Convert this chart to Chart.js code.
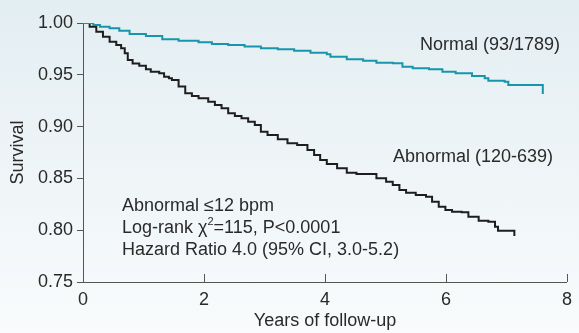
<!DOCTYPE html>
<html>
<head>
<meta charset="utf-8">
<script src="https://cdn.jsdelivr.net/npm/chart.js@4/dist/chart.umd.min.js"></script>
<style>
    html, body { margin: 0; padding: 0; }
    body { width: 579px; height: 333px; background: linear-gradient(#e3eef2, #f9fbfc); }
    #wrap { position: relative; width: 579px; height: 333px; }
</style>
</head>
<body>
<div id="wrap"><canvas id="kmChart" width="579" height="333"></canvas></div>
<script>
// 생존곡선 데이터
const normalYears = [0, 0.17, 0.28, 0.44, 0.60, 0.77, 1.04, 1.31, 1.58, 1.91, 2.13, 2.40, 2.67, 2.94, 3.22, 3.49, 3.76, 4.03, 4.09, 4.36, 4.63, 4.85, 5.12, 5.28, 5.45, 5.72, 5.94, 6.16, 6.43, 6.64, 6.70, 6.97, 7.03, 7.60, 7.60];
const normalSurv = [1.0, 0.998, 0.9964, 0.9949, 0.9926, 0.9894, 0.9875, 0.9842, 0.9829, 0.9813, 0.9797, 0.9788, 0.9772, 0.9756, 0.9746, 0.9733, 0.9714, 0.9698, 0.9675, 0.965, 0.9636, 0.9617, 0.9611, 0.9578, 0.9563, 0.9553, 0.953, 0.9514, 0.9488, 0.9466, 0.9443, 0.9433, 0.9402, 0.9402, 0.9315];

const abnormalYears = [0, 0.11, 0.22, 0.33, 0.44, 0.55, 0.63, 0.69, 0.74, 0.82, 0.93, 1.04, 1.12, 1.26, 1.34, 1.42, 1.47, 1.58, 1.69, 1.80, 1.91, 2.07, 2.18, 2.29, 2.40, 2.51, 2.62, 2.73, 2.84, 2.94, 3.05, 3.22, 3.38, 3.54, 3.71, 3.82, 3.92, 4.03, 4.20, 4.36, 4.52, 4.85, 5.01, 5.12, 5.23, 5.34, 5.50, 5.67, 5.77, 5.88, 5.99, 6.10, 6.26, 6.37, 6.54, 6.70, 6.81, 6.86, 7.13, 7.13];
const abnormalSurv = [1.0, 0.9964, 0.9916, 0.9868, 0.982, 0.9788, 0.9756, 0.9707, 0.9643, 0.961, 0.9588, 0.9553, 0.953, 0.9514, 0.9482, 0.9466, 0.945, 0.9386, 0.9321, 0.9295, 0.9273, 0.924, 0.9208, 0.9176, 0.9128, 0.9102, 0.908, 0.9048, 0.9015, 0.8951, 0.8919, 0.8877, 0.8839, 0.8822, 0.8774, 0.8726, 0.8678, 0.8639, 0.8597, 0.8555, 0.8542, 0.8501, 0.8468, 0.8436, 0.8388, 0.8362, 0.834, 0.8323, 0.8275, 0.8227, 0.8195, 0.8179, 0.8173, 0.813, 0.8092, 0.8082, 0.8034, 0.7995, 0.7995, 0.7944];

const xTicks = [0, 2, 4, 6, 8];
const yTicks = [0.75, 0.80, 0.85, 0.90, 0.95, 1.00];

const seriesLabels = ['Normal (93/1789)', 'Abnormal (120-639)'];
const statLines = ['Abnormal \u226412 bpm', 'Log-rank \u03c7', 'Hazard Ratio 4.0 (95% CI, 3.0-5.2)'];

const FONT = '"Liberation Sans", Arial, sans-serif';
const TEXT = '#2a2a2a';
const AXIS = '#555555';

function toPoints(xs, ys) {
    return xs.map((x, i) => ({ x: x, y: ys[i] }));
}

// 그림 안의 글자 + 안쪽으로 향하는 x축 눈금
const annotatePlugin = {
    id: 'annotate',
    afterDraw(chart) {
        const ctx = chart.ctx;
        const xs = chart.scales.x;
        const ys = chart.scales.y;
        ctx.save();

        ctx.strokeStyle = AXIS;
        ctx.lineWidth = 1;
        xTicks.forEach(t => {
            const px = Math.round(xs.getPixelForValue(t)) + 0.5;
            ctx.beginPath();
            ctx.moveTo(px, ys.bottom);
            ctx.lineTo(px, ys.bottom - 8);
            ctx.stroke();
        });

        ctx.fillStyle = TEXT;
        ctx.font = '18px ' + FONT;
        ctx.textBaseline = 'middle';
        ctx.fillText(seriesLabels[0], 420, 45);
        ctx.fillText(seriesLabels[1], 393, 157);

        ctx.fillText(statLines[0], 122, 206);
        ctx.fillText(statLines[1], 122, 228);
        let w = ctx.measureText(statLines[1]).width;
        ctx.font = '11px ' + FONT;
        ctx.fillText('2', 122 + w, 222);
        let w2 = ctx.measureText('2').width;
        ctx.font = '18px ' + FONT;
        ctx.fillText('=115, P<0.0001', 122 + w + w2, 228);
        ctx.fillText(statLines[2], 122, 250);
        ctx.restore();
    }
};

function createKmChart() {
    const ctx = document.getElementById('kmChart').getContext('2d');

    new Chart(ctx, {
        type: 'line',
        data: {
            datasets: [
                {
                    label: seriesLabels[0],
                    data: toPoints(normalYears, normalSurv),
                    borderColor: '#1795ab',
                    borderWidth: 2,
                    stepped: true,
                    pointRadius: 0,
                    fill: false
                },
                {
                    label: seriesLabels[1],
                    data: toPoints(abnormalYears, abnormalSurv),
                    borderColor: '#1e1e1e',
                    borderWidth: 2,
                    stepped: true,
                    pointRadius: 0,
                    fill: false
                }
            ]
        },
        options: {
            responsive: false,
            animation: false,
            layout: { padding: { top: 23, right: 6, left: 0, bottom: 0 } },
            plugins: {
                legend: { display: false },
                tooltip: { enabled: false }
            },
            scales: {
                x: {
                    type: 'linear',
                    min: 0,
                    max: 8,
                    afterFit: s => { s.height = 51; },
                    afterBuildTicks: s => { s.ticks = xTicks.map(v => ({ value: v })); },
                    grid: { display: true, drawOnChartArea: false, drawTicks: false },
                    border: { color: AXIS, width: 1 },
                    ticks: {
                        padding: 7,
                        color: TEXT,
                        font: { family: FONT, size: 18 }
                    },
                    title: {
                        display: true,
                        text: 'Years of follow-up',
                        color: TEXT,
                        font: { family: FONT, size: 18 },
                        padding: { top: 0, bottom: 1 }
                    }
                },
                y: {
                    min: 0.75,
                    max: 1.0,
                    afterFit: s => { s.width = 83; },
                    afterBuildTicks: s => { s.ticks = yTicks.map(v => ({ value: v })); },
                    grid: { display: true, drawOnChartArea: false, drawTicks: true, tickLength: 6, color: AXIS },
                    border: { color: AXIS, width: 1 },
                    ticks: {
                        padding: 4,
                        color: TEXT,
                        font: { family: FONT, size: 18 },
                        callback: v => v.toFixed(2)
                    },
                    title: {
                        display: true,
                        text: 'Survival',
                        color: TEXT,
                        font: { family: FONT, size: 18 },
                        padding: { top: 7, bottom: 0 }
                    }
                }
            }
        },
        plugins: [annotatePlugin]
    });
}

createKmChart();
</script>
</body>
</html>
